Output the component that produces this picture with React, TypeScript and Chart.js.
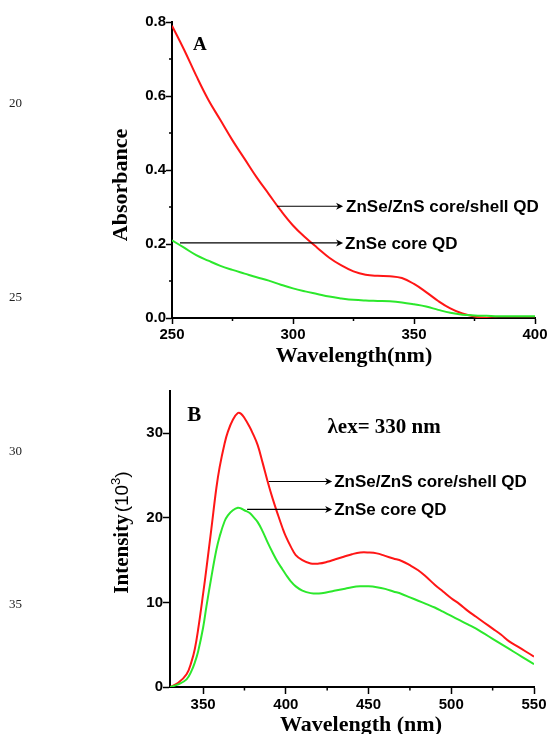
import React, { useEffect, useRef } from 'react';
import { Chart, registerables } from 'chart.js';
Chart.register(...registerables);

// ---------- Panel A: absorbance ----------
const absWavelength = [250, 255, 260, 265, 270, 275, 280, 285, 290, 295, 300, 305, 310, 315, 320, 325, 330, 335, 340, 345, 350, 355, 360, 365, 370, 375, 380, 385, 390, 395, 400];
const absCoreShell = [0.79, 0.725, 0.655, 0.59, 0.535, 0.48, 0.43, 0.38, 0.335, 0.29, 0.25, 0.218, 0.19, 0.163, 0.142, 0.126, 0.117, 0.114, 0.113, 0.108, 0.092, 0.07, 0.046, 0.026, 0.012, 0.004, 0.0, -0.002, -0.002, -0.002, -0.002];
const absCore = [0.21, 0.19, 0.17, 0.155, 0.141, 0.13, 0.12, 0.11, 0.101, 0.09, 0.08, 0.072, 0.065, 0.058, 0.053, 0.049, 0.047, 0.046, 0.045, 0.042, 0.037, 0.031, 0.022, 0.014, 0.009, 0.007, 0.006, 0.005, 0.005, 0.005, 0.005];
const absXTicks = [250, 300, 350, 400];
const absXMinor = [275, 325, 375];
const absYTicks = [0, 0.2, 0.4, 0.6, 0.8];
const absYMinor = [0.1, 0.3, 0.5, 0.7];

// ---------- Panel B: photoluminescence ----------
const plWavelength = [330, 335, 340, 343, 345, 347, 350, 352, 355, 358, 360, 363, 365, 368, 371, 373, 375, 378, 380, 383, 386, 389, 392, 395, 398, 400, 403, 406, 410, 415, 420, 425, 430, 435, 440, 445, 450, 455, 460, 465, 470, 475, 480, 485, 490, 495, 500, 505, 510, 515, 520, 525, 530, 535, 540, 545, 550];
const plCoreShell = [0.0, 0.5, 1.5, 3.0, 4.5, 6.8, 11.0, 14.0, 18.7, 23.5, 26.0, 28.8, 30.2, 31.6, 32.4, 32.3, 31.8, 30.8, 30.0, 28.6, 26.5, 24.3, 22.3, 20.5, 18.8, 17.8, 16.6, 15.6, 15.0, 14.6, 14.6, 14.8, 15.1, 15.4, 15.7, 15.9, 15.9, 15.8, 15.5, 15.2, 14.9, 14.4, 13.8, 13.0, 12.1, 11.3, 10.5, 9.8, 9.0, 8.3, 7.6, 6.9, 6.2, 5.4, 4.8, 4.2, 3.6];
const plCore = [0.0, 0.3, 0.9, 1.9, 2.9, 4.2, 7.0, 9.5, 13.0, 16.2, 17.8, 19.6, 20.3, 20.9, 21.2, 21.1, 20.9, 20.6, 20.2, 19.5, 18.4, 17.1, 15.9, 14.8, 13.9, 13.3, 12.5, 11.9, 11.4, 11.1, 11.05, 11.2, 11.4, 11.6, 11.8, 11.9, 11.9, 11.8, 11.6, 11.3, 11.0, 10.6, 10.2, 9.8, 9.4, 8.9, 8.4, 7.9, 7.4, 6.9, 6.3, 5.7, 5.1, 4.5, 3.9, 3.3, 2.7];
const plXTicks = [350, 400, 450, 500, 550];
const plXMinor = [375, 425, 475, 525];
const plYTicks = [0, 10, 20, 30];

const seriesLabels = ['ZnSe/ZnS core/shell QD', 'ZnSe core QD'];

const RED = 'rgb(255,22,22)';
const GREEN = 'rgb(44,232,44)';
const SANS = "'Liberation Sans', Arial, sans-serif";
const SERIF = "'Liberation Serif', 'Times New Roman', serif";

function drawArrow(ctx: CanvasRenderingContext2D, x1: number, y: number, x2: number) {
  ctx.save();
  ctx.strokeStyle = '#000';
  ctx.fillStyle = '#000';
  ctx.lineWidth = 1.2;
  ctx.beginPath();
  ctx.moveTo(x1, y);
  ctx.lineTo(x2 - 4, y);
  ctx.stroke();
  ctx.beginPath();
  ctx.moveTo(x2, y);
  ctx.lineTo(x2 - 7, y - 3.5);
  ctx.lineTo(x2 - 5, y);
  ctx.lineTo(x2 - 7, y + 3.5);
  ctx.closePath();
  ctx.fill();
  ctx.restore();
}

function text(ctx: CanvasRenderingContext2D, s: string, x: number, y: number, font: string, align: CanvasTextAlign = 'left', color = '#000') {
  ctx.save();
  ctx.font = font;
  ctx.fillStyle = color;
  ctx.textAlign = align;
  ctx.textBaseline = 'alphabetic';
  ctx.fillText(s, x, y);
  ctx.restore();
}

const minorTicks = {
  id: 'minorTicks',
  afterDraw(chart: any, _args: any, opts: any) {
    const ctx = chart.ctx as CanvasRenderingContext2D;
    const area = chart.chartArea;
    ctx.save();
    ctx.strokeStyle = '#000';
    ctx.lineWidth = 1.5;
    (opts.x || []).forEach((v: number) => {
      const px = chart.scales.x.getPixelForValue(v);
      ctx.beginPath();
      ctx.moveTo(px, area.bottom);
      ctx.lineTo(px, area.bottom + opts.len);
      ctx.stroke();
    });
    (opts.y || []).forEach((v: number) => {
      const py = chart.scales.y.getPixelForValue(v);
      ctx.beginPath();
      ctx.moveTo(area.left, py);
      ctx.lineTo(area.left - opts.len, py);
      ctx.stroke();
    });
    ctx.restore();
  },
};

function baseScale(ticksArr: number[], fmt: (v: number) => string, tickLen: number, pad: number, fitKey: 'width' | 'height', fitVal: number, min: number, max: number) {
  return {
    type: 'linear' as const,
    min,
    max,
    afterBuildTicks: (s: any) => {
      s.ticks = ticksArr.map((v) => ({ value: v }));
    },
    afterFit: (s: any) => {
      s[fitKey] = fitVal;
    },
    ticks: {
      autoSkip: false,
      maxRotation: 0,
      padding: pad,
      color: '#000',
      font: { family: SANS, weight: 'bold' as const, size: 15 },
      callback: (v: any) => fmt(Number(v)),
    },
    grid: { drawOnChartArea: false, drawTicks: true, tickLength: tickLen, tickWidth: 1.5, tickColor: '#000' },
    border: { display: true, color: '#000', width: 2 },
  };
}

export default function App() {
  const refA = useRef<HTMLCanvasElement>(null);
  const refB = useRef<HTMLCanvasElement>(null);

  useEffect(() => {
    const overlayA = {
      id: 'overlayA',
      afterDraw(chart: any) {
        const ctx = chart.ctx as CanvasRenderingContext2D;
        const xs = chart.scales.x;
        const ys = chart.scales.y;
        text(ctx, '20', 9, 107, `13px ${SERIF}`, 'left', '#222');
        text(ctx, '25', 9, 301, `13px ${SERIF}`, 'left', '#222');
        text(ctx, 'A', xs.getPixelForValue(258.7), ys.getPixelForValue(0.725), `bold 19px ${SERIF}`);
        ctx.save();
        ctx.translate(127, 185);
        ctx.rotate(-Math.PI / 2);
        text(ctx, 'Absorbance', 0, 0, `bold 22px ${SERIF}`, 'center');
        ctx.restore();
        text(ctx, 'Wavelength(nm)', 354, 361.5, `bold 22px ${SERIF}`, 'center');
        const endX = xs.getPixelForValue(320.7);
        const y1 = ys.getPixelForValue(0.302);
        const y2 = ys.getPixelForValue(0.203);
        drawArrow(ctx, xs.getPixelForValue(293.4), y1, endX);
        drawArrow(ctx, xs.getPixelForValue(253.3), y2, endX);
        text(ctx, seriesLabels[0], endX + 3, y1 + 6, `bold 17px ${SANS}`);
        text(ctx, seriesLabels[1], endX + 2, y2 + 6, `bold 17px ${SANS}`);
      },
    };

    const overlayB = {
      id: 'overlayB',
      afterDraw(chart: any) {
        const ctx = chart.ctx as CanvasRenderingContext2D;
        const xs = chart.scales.x;
        const ys = chart.scales.y;
        text(ctx, '30', 9, 88, `13px ${SERIF}`, 'left', '#222');
        text(ctx, '35', 9, 241, `13px ${SERIF}`, 'left', '#222');
        text(ctx, 'B', xs.getPixelForValue(340.5), ys.getPixelForValue(31.4), `bold 21px ${SERIF}`);
        text(ctx, 'λex= 330 nm', xs.getPixelForValue(425.2), ys.getPixelForValue(30), `bold 21px ${SERIF}`);
        ctx.save();
        ctx.translate(128, 165.5);
        ctx.rotate(-Math.PI / 2);
        ctx.textBaseline = 'alphabetic';
        ctx.fillStyle = '#000';
        const f1 = `bold 21px ${SERIF}`;
        const f2 = `19px ${SANS}`;
        const f3 = `13px ${SANS}`;
        const parts: [string, string, number][] = [
          ['Intensity', f1, 0],
          ['(10', f2, 0],
          ['3', f3, -8],
          [')', f2, 0],
        ];
        let total = 0;
        const widths = parts.map(([s, f]) => {
          ctx.font = f;
          const w = ctx.measureText(s).width;
          total += w;
          return w;
        });
        total += 2;
        let cx = -total / 2;
        parts.forEach(([s, f, dy], i) => {
          ctx.font = f;
          ctx.textAlign = 'left';
          ctx.fillText(s, cx, dy);
          cx += widths[i] + (i === 0 ? 2 : 0);
        });
        ctx.restore();
        text(ctx, 'Wavelength (nm)', 361, 364, `bold 22px ${SERIF}`, 'center');
        const endX = xs.getPixelForValue(428);
        const y1 = ys.getPixelForValue(24.3);
        const y2 = ys.getPixelForValue(21.0);
        drawArrow(ctx, xs.getPixelForValue(389.7), y1, endX);
        drawArrow(ctx, xs.getPixelForValue(376.6), y2, endX);
        text(ctx, seriesLabels[0], endX + 2, y1 + 6, `bold 17px ${SANS}`);
        text(ctx, seriesLabels[1], endX + 2, y2 + 6, `bold 17px ${SANS}`);
      },
    };

    const common = {
      responsive: false,
      animation: false as const,
      events: [] as any[],
      plugins: { legend: { display: false }, tooltip: { enabled: false } },
      elements: { point: { radius: 0 }, line: { borderWidth: 2, tension: 0.4 } },
    };

    const chartA = new Chart(refA.current!, {
      type: 'line',
      data: {
        datasets: [
          { label: seriesLabels[0], data: absWavelength.map((x, i) => ({ x, y: absCoreShell[i] })), borderColor: RED, order: 2 },
          { label: seriesLabels[1], data: absWavelength.map((x, i) => ({ x, y: absCore[i] })), borderColor: GREEN, order: 1 },
        ],
      },
      options: {
        ...common,
        layout: { padding: { top: 22, right: 16, left: 0, bottom: 0 } },
        plugins: { ...common.plugins, minorTicks: { x: absXMinor, y: absYMinor, len: 3 } } as any,
        scales: {
          x: baseScale(absXTicks, (v) => String(v), 6, 2, 'height', 49, 250, 400) as any,
          y: baseScale(absYTicks, (v) => v.toFixed(1), 6, 0, 'width', 172, 0, 0.8) as any,
        },
      },
      plugins: [minorTicks, overlayA],
    });

    const chartB = new Chart(refB.current!, {
      type: 'line',
      data: {
        datasets: [
          { label: seriesLabels[0], data: plWavelength.map((x, i) => ({ x, y: plCoreShell[i] })), borderColor: RED, order: 2 },
          { label: seriesLabels[1], data: plWavelength.map((x, i) => ({ x, y: plCore[i] })), borderColor: GREEN, order: 1 },
        ],
      },
      options: {
        ...common,
        layout: { padding: { top: 24, right: 17, left: 0, bottom: 0 } },
        plugins: { ...common.plugins, minorTicks: { x: plXMinor, y: [], len: 3.5 } } as any,
        scales: {
          x: baseScale(plXTicks, (v) => String(v), 7, 2, 'height', 47, 330, 550) as any,
          y: baseScale(plYTicks, (v) => String(v), 7, 0, 'width', 170, 0, 35) as any,
        },
      },
      plugins: [minorTicks, overlayB],
    });

    return () => {
      chartA.destroy();
      chartB.destroy();
    };
  }, []);

  return (
    <div style={{ position: 'absolute', left: 0, top: 0, width: 551, height: 734, background: '#fff', overflow: 'hidden' }}>
      <canvas ref={refA} width={551} height={367} style={{ position: 'absolute', left: 0, top: 0 }} />
      <canvas ref={refB} width={551} height={367} style={{ position: 'absolute', left: 0, top: 367 }} />
    </div>
  );
}
